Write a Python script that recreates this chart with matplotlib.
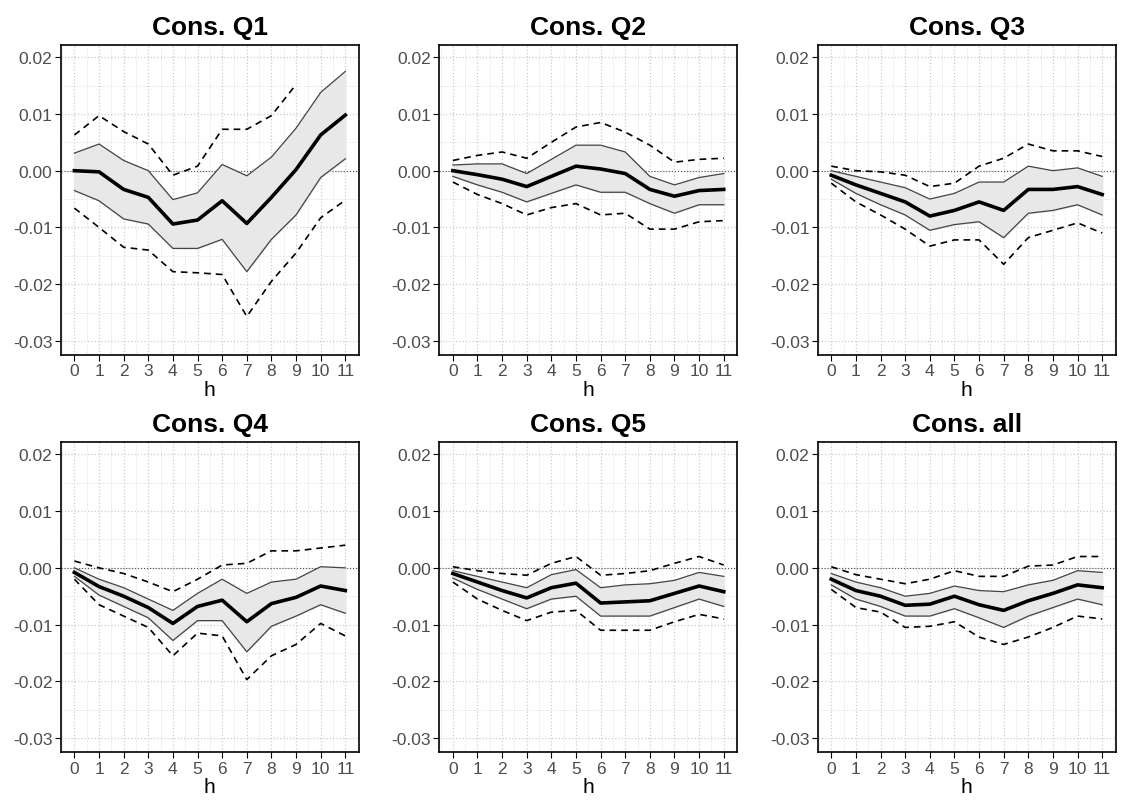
import numpy as np
import matplotlib.pyplot as plt
from matplotlib.ticker import MultipleLocator

plt.rcParams['font.family'] = ['Liberation Sans', 'DejaVu Sans']

h = np.arange(12)
titles = ['Cons. Q1', 'Cons. Q2', 'Cons. Q3', 'Cons. Q4', 'Cons. Q5', 'Cons. all']

mean = [
    [0, -0.0002, -0.0033, -0.0047, -0.0094, -0.0087, -0.0053, -0.0093, -0.0047, 0.0002, 0.0063, 0.0098],
    [0, -0.0007, -0.0015, -0.0028, -0.001, 0.0008, 0.0003, -0.0005, -0.0033, -0.0045, -0.0035, -0.0033],
    [-0.0008, -0.0025, -0.004, -0.0055, -0.008, -0.007, -0.0055, -0.007, -0.0033, -0.0033, -0.0028, -0.0042],
    [-0.0008, -0.0033, -0.005, -0.007, -0.0098, -0.0068, -0.0057, -0.0095, -0.0063, -0.0052, -0.0032, -0.004],
    [-0.001, -0.0025, -0.004, -0.0053, -0.0035, -0.0027, -0.0062, -0.006, -0.0058, -0.0045, -0.0032, -0.0042],
    [-0.002, -0.004, -0.005, -0.0066, -0.0064, -0.005, -0.0065, -0.0075, -0.0058, -0.0045, -0.003, -0.0035],
]
band_hi = [
    [0.0031, 0.0047, 0.0018, 0.0, -0.0051, -0.0039, 0.0011, -0.0009, 0.0024, 0.0075, 0.0138, 0.0175],
    [0.001, 0.0012, 0.0012, -0.0005, 0.002, 0.0045, 0.0045, 0.0033, -0.001, -0.0025, -0.0012, -0.0005],
    [0, -0.001, -0.002, -0.003, -0.005, -0.004, -0.002, -0.002, 0.0008, 0, 0.0005, -0.001],
    [0, -0.002, -0.0035, -0.0055, -0.0075, -0.0045, -0.002, -0.0045, -0.0025, -0.002, 0.0002, 0],
    [-0.0005, -0.0015, -0.0025, -0.0035, -0.0012, -0.0003, -0.0035, -0.003, -0.0028, -0.0022, -0.0008, -0.0015],
    [-0.001, -0.0025, -0.0035, -0.005, -0.0045, -0.0032, -0.004, -0.0042, -0.003, -0.0022, -0.0005, -0.0008],
]
band_lo = [
    [-0.0035, -0.0053, -0.0085, -0.0094, -0.0137, -0.0137, -0.0121, -0.0178, -0.0121, -0.0078, -0.0012, 0.0021],
    [-0.001, -0.0025, -0.0038, -0.0055, -0.004, -0.0025, -0.0038, -0.0038, -0.0058, -0.0075, -0.006, -0.006],
    [-0.0015, -0.004, -0.006, -0.0078, -0.0105, -0.0095, -0.009, -0.0118, -0.0075, -0.007, -0.006, -0.0078],
    [-0.0015, -0.0048, -0.0068, -0.0088, -0.0128, -0.0093, -0.0093, -0.0148, -0.0103, -0.0085, -0.0065, -0.008],
    [-0.0018, -0.0038, -0.0055, -0.0072, -0.0055, -0.005, -0.0085, -0.0085, -0.0085, -0.007, -0.0055, -0.0068],
    [-0.003, -0.0055, -0.0068, -0.0085, -0.0085, -0.0072, -0.0088, -0.0105, -0.0085, -0.007, -0.0055, -0.0065],
]
dash_hi = [
    [0.0063, 0.0097, 0.0069, 0.0047, -0.0008, 0.0008, 0.0073, 0.0073, 0.0097, 0.0152, np.nan, np.nan],
    [0.0018, 0.0027, 0.0033, 0.0022, 0.005, 0.0077, 0.0085, 0.0068, 0.0045, 0.0015, 0.002, 0.0022],
    [0.0008, 0, -0.0002, -0.0008, -0.0028, -0.0022, 0.0008, 0.0022, 0.0047, 0.0035, 0.0035, 0.0025],
    [0.0012, 0, -0.001, -0.0025, -0.0042, -0.002, 0.0005, 0.0008, 0.003, 0.003, 0.0035, 0.004],
    [0.0002, -0.0005, -0.001, -0.0013, 0.0008, 0.002, -0.0013, -0.001, -0.0005, 0.0008, 0.002, 0.0005],
    [0.0002, -0.0012, -0.002, -0.0028, -0.002, -0.0005, -0.0015, -0.0015, 0.0003, 0.0005, 0.002, 0.002],
]
dash_lo = [
    [-0.0066, -0.01, -0.0135, -0.014, -0.0178, -0.018, -0.0183, -0.0257, -0.0195, -0.0145, -0.0083, -0.0052],
    [-0.002, -0.0042, -0.0058, -0.0078, -0.0065, -0.0058, -0.0078, -0.0075, -0.0103, -0.0103, -0.009, -0.0088],
    [-0.0022, -0.0055, -0.0078, -0.0103, -0.0133, -0.0122, -0.0122, -0.0165, -0.0118, -0.0105, -0.0092, -0.011],
    [-0.002, -0.0065, -0.0085, -0.0105, -0.0155, -0.0115, -0.012, -0.0197, -0.0155, -0.0135, -0.0098, -0.012],
    [-0.0025, -0.0055, -0.0075, -0.0093, -0.0078, -0.0075, -0.011, -0.011, -0.011, -0.0095, -0.0082, -0.009],
    [-0.0038, -0.007, -0.0078, -0.0105, -0.0103, -0.0095, -0.0122, -0.0135, -0.0122, -0.0105, -0.0085, -0.009],
]

fig, axes = plt.subplots(2, 3, figsize=(11.27, 8.03), dpi=100)
plt.subplots_adjust(left=0.054, right=0.99, top=0.943, bottom=0.062, wspace=0.27, hspace=0.28)

for i, ax in enumerate(axes.flat):
    ax.fill_between(h, band_lo[i], band_hi[i], color='#e8e8e8', zorder=2)
    ax.plot(h, band_hi[i], color='#444444', lw=0.9, zorder=3)
    ax.plot(h, band_lo[i], color='#444444', lw=0.9, zorder=3)
    ax.plot(h, dash_hi[i], color='black', lw=1.2, ls=(0, (4, 3)), zorder=3)
    ax.plot(h, dash_lo[i], color='black', lw=1.2, ls=(0, (4, 3)), zorder=3)
    ax.plot(h, mean[i], color='black', lw=2.6, zorder=4)
    ax.axhline(0, color='#555555', lw=0.8, ls=':', zorder=1)
    ax.set_xlim(-0.55, 11.55)
    ax.set_ylim(-0.0325, 0.0222)
    ax.set_xticks(h)
    ax.set_yticks([-0.03, -0.02, -0.01, 0.0, 0.01, 0.02])
    ax.set_yticklabels(['-0.03', '-0.02', '-0.01', '0.00', '0.01', '0.02'])
    ax.xaxis.set_minor_locator(MultipleLocator(0.5))
    ax.yaxis.set_minor_locator(MultipleLocator(0.005))
    ax.grid(which='major', color='#cccccc', ls=':', lw=0.9, zorder=0)
    ax.grid(which='minor', color='#dddddd', ls=':', lw=0.7, zorder=0)
    ax.tick_params(which='minor', length=0)
    ax.tick_params(which='major', labelsize=12.5, labelcolor='#4d4d4d', length=4, pad=2)
    for s in ax.spines.values():
        s.set_linewidth(1.2)
    ax.set_title(titles[i], fontsize=19, fontweight='bold', pad=8)
    ax.set_xlabel('h', fontsize=15, labelpad=1)
    ax.set_axisbelow(True)

fig.savefig('out.png')
